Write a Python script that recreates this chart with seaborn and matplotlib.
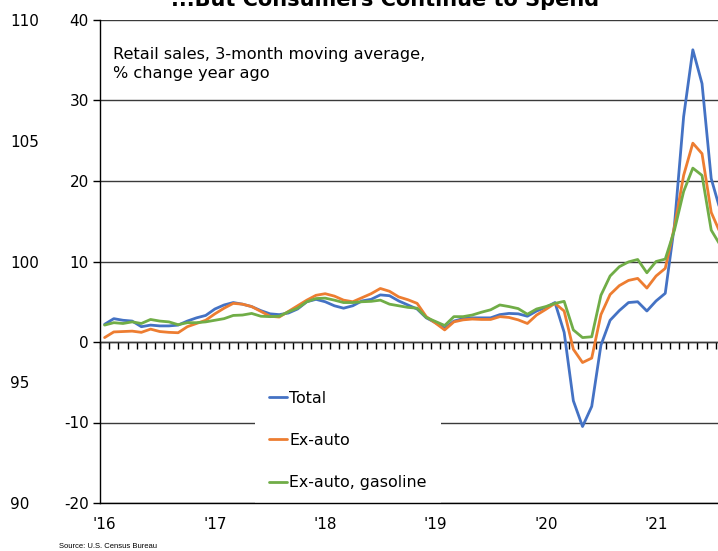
import numpy as np
import pandas as pd
import matplotlib
matplotlib.use("Agg")
import matplotlib.pyplot as plt
import seaborn as sns

# ---- data (3-month moving average, % change year ago) ----
months = pd.date_range("2016-01-01", "2021-08-01", freq="MS")
total = [
    2.2, 2.9, 2.7, 2.6, 1.9, 2.1, 2.0, 2.0, 2.1, 2.6, 3.0, 3.3,
    4.1, 4.6, 4.9, 4.7, 4.4, 3.9, 3.5, 3.4, 3.6, 4.1, 5.0, 5.3,
    5.0, 4.5, 4.2, 4.5, 5.1, 5.3, 5.85, 5.75, 5.1, 4.6, 4.1, 3.0,
    2.4, 1.7, 2.6, 2.9, 3.0, 3.0, 3.0, 3.4, 3.55, 3.5, 3.2, 3.85,
    4.3, 4.9, 1.2, -7.3, -10.5, -8.0, -0.4, 2.7, 3.9, 4.9, 5.0, 3.85,
    5.1, 6.05, 14.5, 28.0, 36.3, 32.1, 20.3, 16.3,
]
ex_auto = [
    0.55, 1.25, 1.3, 1.35, 1.2, 1.6, 1.3, 1.2, 1.15, 1.9, 2.3, 2.7,
    3.5, 4.2, 4.8, 4.7, 4.4, 3.8, 3.2, 3.1, 3.8, 4.5, 5.2, 5.8,
    6.0, 5.7, 5.2, 5.0, 5.5, 6.0, 6.65, 6.3, 5.6, 5.25, 4.8, 3.15,
    2.35, 1.5, 2.5, 2.75, 2.85, 2.8, 2.8, 3.15, 3.05, 2.75, 2.3, 3.35,
    4.05, 4.8, 3.85, -0.9, -2.55, -2.0, 3.4, 5.9, 7.0, 7.65, 7.9, 6.7,
    8.2, 9.15, 14.3, 20.7, 24.7, 23.4, 16.1, 13.5,
]
ex_auto_gas = [
    2.1, 2.4, 2.3, 2.5, 2.3, 2.8, 2.6, 2.5, 2.15, 2.4, 2.4, 2.5,
    2.7, 2.9, 3.3, 3.35, 3.55, 3.2, 3.15, 3.2, 3.75, 4.2, 5.0, 5.4,
    5.45, 5.2, 4.9, 4.9, 5.0, 5.05, 5.2, 4.7, 4.5, 4.3, 4.2, 3.05,
    2.55, 2.05, 3.15, 3.15, 3.35, 3.7, 4.0, 4.6, 4.4, 4.15, 3.45, 4.1,
    4.4, 4.8, 5.05, 1.5, 0.55, 0.65, 5.8, 8.2, 9.35, 9.95, 10.25, 8.6,
    10.0, 10.3, 13.9, 18.7, 21.6, 20.7, 13.9, 12.0,
]
series_names = ["Total", "Ex-auto", "Ex-auto, gasoline"]
colors = ["#4472C4", "#ED7D31", "#70AD47"]
year_labels = ["'16", "'17", "'18", "'19", "'20", "'21"]
y_ticks = [-20, -10, 0, 10, 20, 30, 40]
ghost_ticks = [90, 95, 100, 105, 110]
title = "...But Consumers Continue to Spend"
note = "Retail sales, 3-month moving average,\n% change year ago"
source = "Source: U.S. Census Bureau"

idx = np.arange(len(months))
df = pd.DataFrame({"idx": idx, series_names[0]: total,
                   series_names[1]: ex_auto, series_names[2]: ex_auto_gas})
df = df.melt(id_vars="idx", var_name="series", value_name="value")

sns.set_style("white")
plt.rcParams["font.family"] = ["DejaVu Sans"]
plt.rcParams["text.color"] = "black"
plt.rcParams["axes.labelcolor"] = "black"
plt.rcParams["xtick.color"] = "black"
plt.rcParams["ytick.color"] = "black"

fig = plt.figure(figsize=(7.18, 5.51), dpi=100)
ax = fig.add_axes([100 / 718, 48 / 551, 625 / 718, 483 / 551])
sns.lineplot(data=df, x="idx", y="value", hue="series", hue_order=series_names,
             palette=colors, linewidth=2.0, ax=ax)

ax.set_xlim(-0.5, len(months) - 0.5)
ax.set_ylim(-20, 40)
ax.set_xlabel("")
ax.set_ylabel("")
ax.set_axisbelow(True)
ax.yaxis.grid(True, color="#3a3a3a", linewidth=1)
ax.xaxis.grid(False)
for s in ["top", "right"]:
    ax.spines[s].set_visible(False)
for s in ["left", "bottom"]:
    ax.spines[s].set_color("black")
    ax.spines[s].set_linewidth(1)

ax.set_yticks(y_ticks)
ax.set_yticklabels([str(v) for v in y_ticks])
ax.tick_params(axis="y", left=True, length=5, width=1, color="black",
               labelcolor="black", labelsize=11, pad=3)
ax.set_xticks(idx[::12])
ax.set_xticklabels(year_labels)
ax.tick_params(axis="x", bottom=False, length=0, labelsize=11, pad=10,
               labelcolor="black")

# zero line with monthly tick marks
sec = ax.secondary_xaxis(1 / 3)
sec.set_xticks(np.arange(-0.5, len(months), 1))
sec.tick_params(axis="x", bottom=True, top=False, direction="out", length=5,
                width=1, color="black", labelbottom=False, labeltop=False)
for s in sec.spines.values():
    s.set_color("black")
    s.set_linewidth(1)

# ghost left axis
ax2 = ax.twinx()
ax2.set_ylim(90, 110)
ax2.set_yticks(ghost_ticks)
ax2.set_yticklabels([str(v) for v in ghost_ticks], ha="left")
ax2.yaxis.tick_left()
ax2.tick_params(axis="y", left=True, right=False, length=0, pad=64.8,
                labelsize=11, labelleft=True, labelright=False,
                labelcolor="black")
for s in ax2.spines.values():
    s.set_visible(False)
ax2.grid(False)

handles, labels = ax.get_legend_handles_labels()
leg = ax.legend(handles, labels, loc="upper left", bbox_to_anchor=(0.248, 0.262),
                frameon=True, facecolor="white", edgecolor="none", framealpha=1,
                fancybox=False, borderpad=0.9, handlelength=1.1,
                handletextpad=0.15, labelspacing=1.72, borderaxespad=0,
                prop={"size": 11.4})
leg.set_zorder(2.4)
for t in leg.get_texts():
    t.set_color("black")

ax.text(0.021, 0.944, note, transform=ax.transAxes, va="top", ha="left",
        fontsize=11.6, linespacing=1.3, color="black")

fig.text(385 / 718, 1 - 6 / 551, title, ha="center", va="baseline",
         fontsize=15, fontweight="bold", color="black")
fig.text(59 / 718, 1 - 546 / 551, source, ha="left", va="center", fontsize=5.5,
         color="black",
         family=["Liberation Sans Narrow", "Liberation Sans", "DejaVu Sans"])

fig.savefig("out.png", dpi=100)
